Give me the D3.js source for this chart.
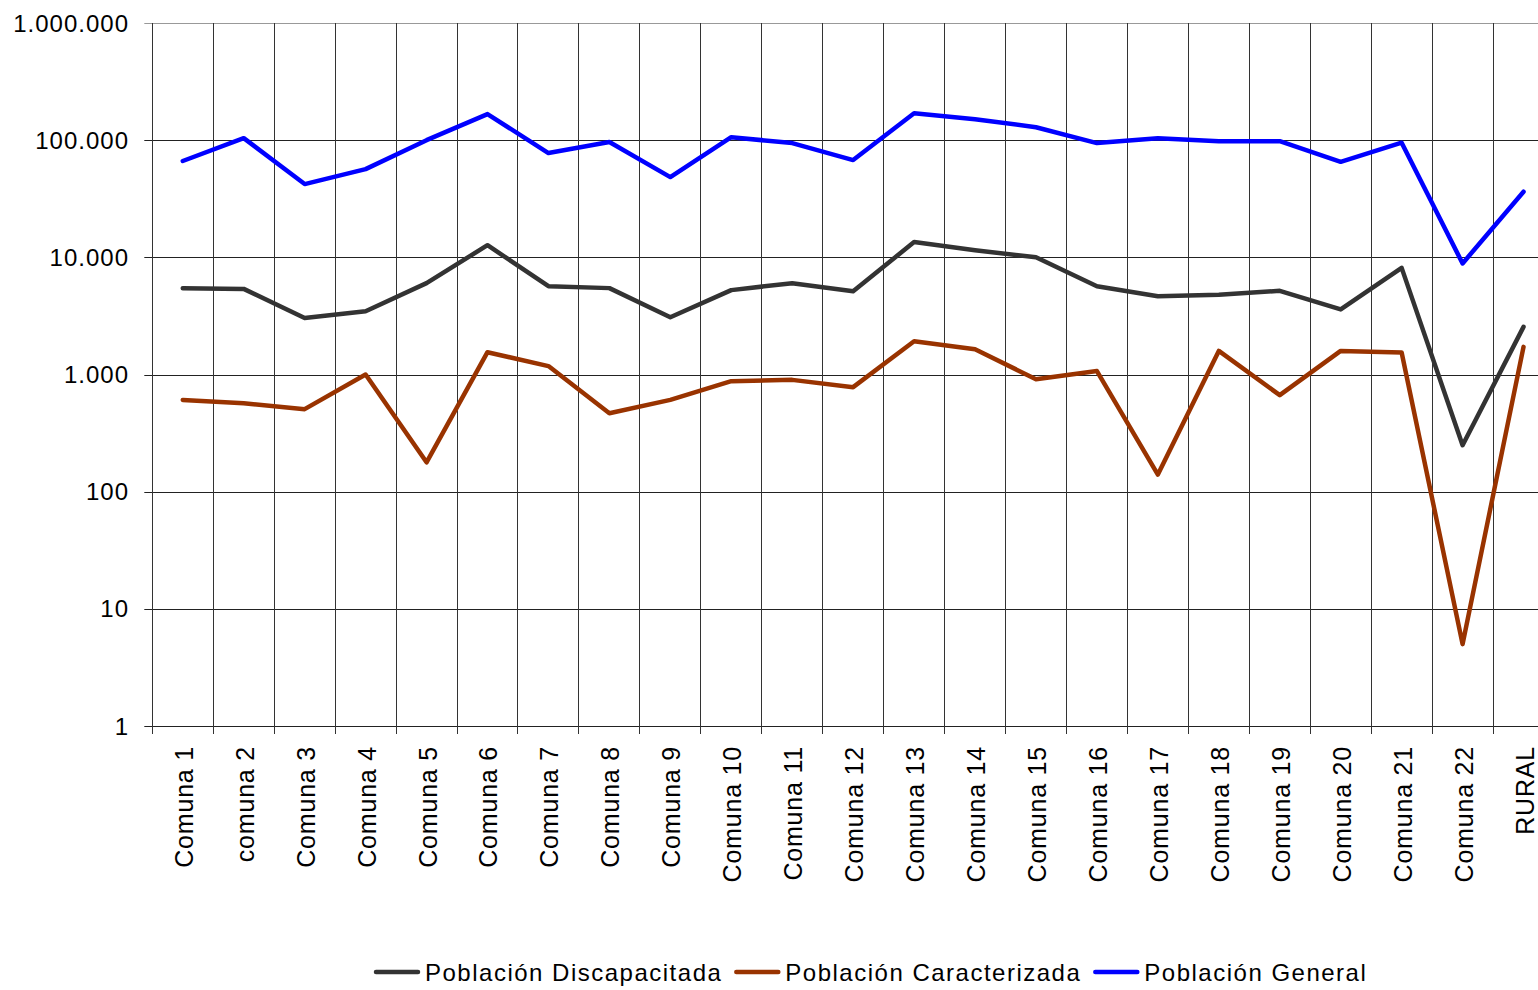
<!DOCTYPE html>
<html>
<head>
<meta charset="utf-8">
<script src="https://cdn.jsdelivr.net/npm/d3@7"></script>
<style>
  body { margin: 0; background: #fff; }
  svg { display: block; font-family: "Liberation Sans", Arial, sans-serif; }
</style>
</head>
<body>
<svg width="1538" height="990"></svg>
<script>
// values
var categories = ["Comuna 1", "comuna 2", "Comuna 3", "Comuna 4", "Comuna 5", "Comuna 6",
  "Comuna 7", "Comuna 8", "Comuna 9", "Comuna 10", "Comuna 11", "Comuna 12", "Comuna 13",
  "Comuna 14", "Comuna 15", "Comuna 16", "Comuna 17", "Comuna 18", "Comuna 19", "Comuna 20",
  "Comuna 21", "Comuna 22", "RURAL"];

var discapacitada = [5460, 5380, 3030, 3470, 6020, 12700, 5670, 5460, 3080, 5250, 6020, 5140,
  13500, 11500, 10000, 5670, 4660, 4800, 5180, 3590, 8130, 249, 2550];

var caracterizada = [607, 569, 506, 1000, 178, 1550, 1180, 467, 607, 877, 900, 780,
  1920, 1640, 912, 1070, 140, 1590, 666, 1590, 1540, 5, 1720];

var general = [66400, 104000, 42200, 56600, 100000, 167000, 77600, 96400, 48400, 106000, 94400, 67600,
  170000, 151000, 129000, 94400, 104000, 98000, 98000, 65400, 95100, 8870, 36300];

var yTicks = [1, 10, 100, 1000, 10000, 100000, 1000000];

var seriesNames = ["Población Discapacitada", "Población Caracterizada", "Población General"];
var seriesColors = ["#333333", "#993300", "#0000ff"];

var svg = d3.select("svg");
var plotLeft = 152.3, plotRight = 1554, plotTop = 23, plotBottom = 726;

var x = d3.scaleBand().domain(categories).range([plotLeft, plotRight]);
var y = d3.scaleLog().domain([1, 1000000]).range([plotBottom, plotTop]);

var loc = d3.formatLocale({ decimal: ",", thousands: ".", grouping: [3], currency: ["", ""] });
var fmt = loc.format(",d");

// horizontal grid lines (with the little tick on the left)
svg.append("g")
  .selectAll("line")
  .data(yTicks)
  .enter()
  .append("line")
  .attr("x1", plotLeft - 8)
  .attr("x2", plotRight)
  .attr("y1", function(d) { return Math.round(y(d)) + 0.5; })
  .attr("y2", function(d) { return Math.round(y(d)) + 0.5; })
  .attr("stroke", function(d) { return d === 1000000 ? "#999" : "#222"; })
  .attr("stroke-width", 1);

// vertical grid lines at category boundaries
var bounds = categories.map(function(c) { return x(c); });
bounds.push(plotRight);
svg.append("g")
  .selectAll("line")
  .data(bounds)
  .enter()
  .append("line")
  .attr("x1", function(d) { return Math.floor(d) + 0.5; })
  .attr("x2", function(d) { return Math.floor(d) + 0.5; })
  .attr("y1", plotTop)
  .attr("y2", plotBottom + 8)
  .attr("stroke", "#333")
  .attr("stroke-width", 1);

// y tick labels
svg.append("g")
  .selectAll("text")
  .data(yTicks)
  .enter()
  .append("text")
  .attr("x", 129)
  .attr("y", function(d) { return y(d); })
  .attr("dy", "0.36em")
  .attr("text-anchor", "end")
  .attr("font-size", 24)
  .attr("letter-spacing", 1)
  .attr("fill", "#000")
  .text(function(d) { return fmt(d); });

// x labels, rotated
svg.append("g")
  .selectAll("text")
  .data(categories)
  .enter()
  .append("text")
  .attr("transform", function(d) {
    return "translate(" + (x(d) + x.bandwidth() / 2 + 10) + "," + 746 + ") rotate(-90)";
  })
  .attr("text-anchor", "end")
  .attr("font-size", 25)
  .attr("letter-spacing", 0.8)
  .attr("fill", "#000")
  .text(function(d) { return d; });

// lines
var allSeries = [discapacitada, caracterizada, general];
var line = d3.line()
  .x(function(d, i) { return x(categories[i]) + x.bandwidth() / 2; })
  .y(function(d) { return y(d); });

svg.append("g")
  .selectAll("path")
  .data(allSeries)
  .enter()
  .append("path")
  .attr("d", line)
  .attr("fill", "none")
  .attr("stroke", function(d, i) { return seriesColors[i]; })
  .attr("stroke-width", 4.5)
  .attr("stroke-linejoin", "round")
  .attr("stroke-linecap", "round");

// legend
var legend = svg.append("g");
var lx = 376, ly = 972;
seriesNames.forEach(function(name, i) {
  legend.append("line")
    .attr("x1", lx).attr("x2", lx + 42)
    .attr("y1", ly).attr("y2", ly)
    .attr("stroke", seriesColors[i])
    .attr("stroke-width", 4.5)
    .attr("stroke-linecap", "round");
  var t = legend.append("text")
    .attr("x", lx + 49)
    .attr("y", ly + 9)
    .attr("font-size", 24)
    .attr("letter-spacing", 1.5)
    .attr("fill", "#000")
    .text(name);
  lx = lx + 49 + t.node().getComputedTextLength() + 14;
});
</script>
</body>
</html>
